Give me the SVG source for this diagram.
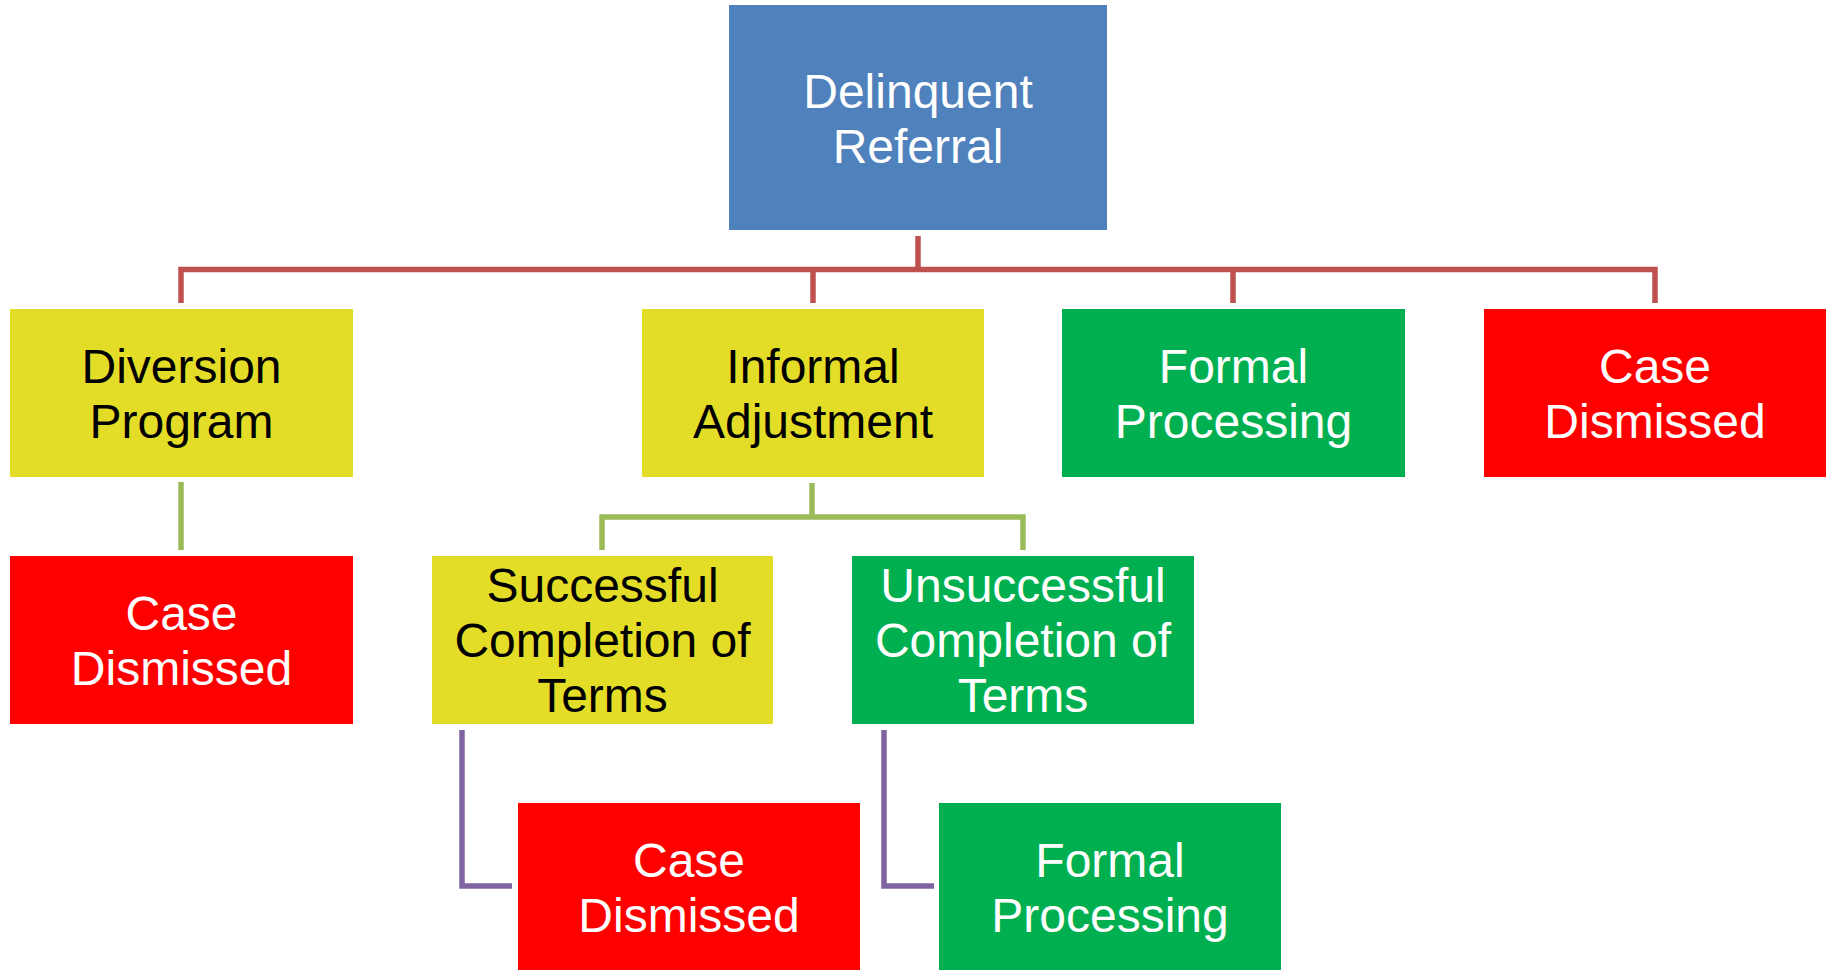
<svg xmlns="http://www.w3.org/2000/svg" width="1826" height="970" viewBox="0 0 1826 970">
<style>
text{font-family:"Liberation Sans",Arial,sans-serif;font-size:48px;text-anchor:middle}
.w{fill:#FFFFFF}.k{fill:#000000}
.blue{fill:#4F81BD}.yel{fill:#E4DD27}.grn{fill:#00B050}.red{fill:#FF0000}
.c{fill:none;stroke-width:5.5;stroke-linejoin:miter}
.cr{stroke:#C0504D}.cg{stroke:#9BBB59}.cp{stroke:#8064A2}
</style>
<rect width="1826" height="970" fill="#FFFFFF"/>
<g id="connectors">
<path class="c cr" d="M918,236 V269.5"/>
<path class="c cr" d="M181,303 V269.5 H1655 V303"/>
<path class="c cr" d="M813,269.5 V303"/>
<path class="c cr" d="M1233,269.5 V303"/>
<path class="c cg" d="M181,482 V550"/>
<path class="c cg" d="M812,483 V517"/>
<path class="c cg" d="M602,550 V517 H1023 V550"/>
<path class="c cp" d="M462,730 V886 H512"/>
<path class="c cp" d="M884,730 V886 H934"/>
</g>
<g id="root">
<rect class="blue" x="729" y="5" width="378" height="225"/>
<text class="w" x="918" y="107.5">Delinquent</text>
<text class="w" x="918" y="162.5">Referral</text>
</g>
<g id="diversion">
<rect class="yel" x="10" y="309" width="343" height="168"/>
<text class="k" x="181.5" y="383">Diversion</text>
<text class="k" x="181.5" y="438">Program</text>
</g>
<g id="informal">
<rect class="yel" x="642" y="309" width="342" height="168"/>
<text class="k" x="813" y="383">Informal</text>
<text class="k" x="813" y="438">Adjustment</text>
</g>
<g id="formal1">
<rect class="grn" x="1062" y="309" width="343" height="168"/>
<text class="w" x="1233.5" y="383">Formal</text>
<text class="w" x="1233.5" y="438">Processing</text>
</g>
<g id="dismissed1">
<rect class="red" x="1484" y="309" width="342" height="168"/>
<text class="w" x="1655" y="383">Case</text>
<text class="w" x="1655" y="438">Dismissed</text>
</g>
<g id="dismissed2">
<rect class="red" x="10" y="556" width="343" height="168"/>
<text class="w" x="181.5" y="630">Case</text>
<text class="w" x="181.5" y="685">Dismissed</text>
</g>
<g id="successful">
<rect class="yel" x="432" y="556" width="341" height="168"/>
<text class="k" x="602.5" y="602">Successful</text>
<text class="k" x="602.5" y="657">Completion of</text>
<text class="k" x="602.5" y="712">Terms</text>
</g>
<g id="unsuccessful">
<rect class="grn" x="852" y="556" width="342" height="168"/>
<text class="w" x="1023" y="602">Unsuccessful</text>
<text class="w" x="1023" y="657">Completion of</text>
<text class="w" x="1023" y="712">Terms</text>
</g>
<g id="dismissed3">
<rect class="red" x="518" y="803" width="342" height="167"/>
<text class="w" x="689" y="877">Case</text>
<text class="w" x="689" y="932">Dismissed</text>
</g>
<g id="formal2">
<rect class="grn" x="939" y="803" width="342" height="167"/>
<text class="w" x="1110" y="877">Formal</text>
<text class="w" x="1110" y="932">Processing</text>
</g>
</svg>
